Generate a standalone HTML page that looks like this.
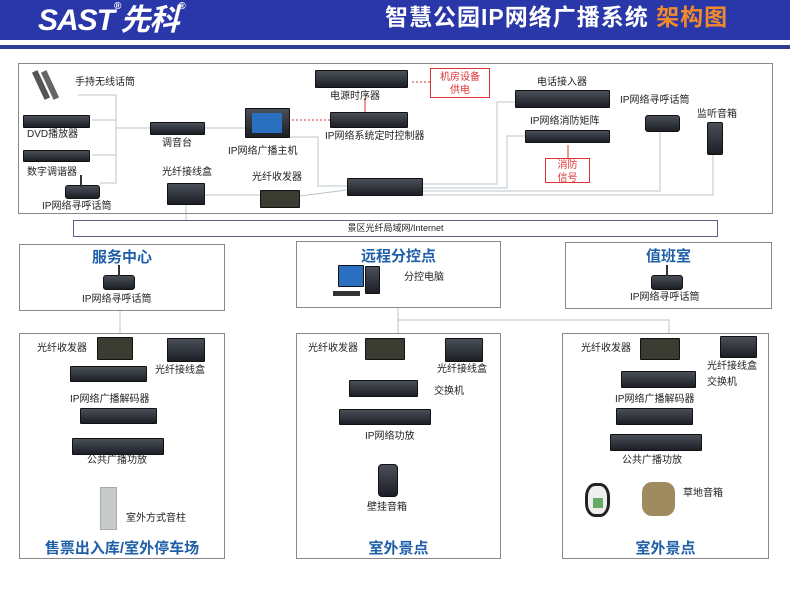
<!DOCTYPE html>
<html><head><meta charset="utf-8"><style>
*{margin:0;padding:0;box-sizing:border-box}
body{width:790px;height:594px;background:#fff;position:relative;overflow:hidden;font-family:"Liberation Sans","Noto Sans CJK SC",sans-serif;color:#222}
.a{position:absolute}
.t{position:absolute;font-size:10px;white-space:nowrap;line-height:1}
.dev{position:absolute;background:linear-gradient(#4a4f58,#1c1f25);border:1px solid #111;border-radius:1px}
.box{position:absolute;border:1.5px solid #888;background:#fff}
.ttl{position:absolute;left:0;right:0;text-align:center;color:#1f5fa8;font-weight:bold;font-size:15px;line-height:1}
.red{position:absolute;border:1.5px solid #d33;color:#d33;font-size:10px;text-align:center;line-height:13px;background:#fff}
svg{position:absolute;left:0;top:0}
</style></head><body>
<div class="a" style="left:0;top:0;width:790px;height:40px;background:#2a37a8"></div>
<div class="a" style="left:0;top:45px;width:790px;height:4px;background:#2d3d94"></div>
<div class="t" style="left:38px;top:2px;color:#fff;font-size:30px;font-weight:bold;font-style:italic;letter-spacing:-1px">SAST<sup style="font-size:10px;font-style:normal;vertical-align:top">®</sup><span style="font-family:'Noto Sans CJK SC',sans-serif">先科</span><sup style="font-size:10px;font-style:normal;vertical-align:top">®</sup></div>
<div class="t" style="left:385px;top:6px;color:#fff;font-size:23px;font-weight:bold;letter-spacing:1px">智慧公园IP网络广播系统 <span style="color:#f08a2a">架构图</span></div>

<svg width="790" height="594">
<g stroke="#b9c6cc" stroke-width="1" fill="none">
<polyline points="78,95 116,95 116,183 100,183"/>
<line x1="92" y1="120" x2="116" y2="120"/><line x1="92" y1="155" x2="116" y2="155"/>
<line x1="116" y1="128" x2="150" y2="128"/>
<line x1="205" y1="128" x2="245" y2="128"/>
<polyline points="290,137 318,137 318,186 347,186"/>
<line x1="205" y1="195" x2="260" y2="195"/>
<line x1="300" y1="196" x2="347" y2="190"/>
<line x1="186" y1="205" x2="186" y2="220"/>
<polyline points="423,184 497,184 497,102 515,102"/>
<polyline points="423,188 507,188 507,136 525,136"/>
<polyline points="423,191 660,191 660,132"/>
<polyline points="423,195 713,195 713,155"/>
<line x1="120" y1="311" x2="120" y2="333"/>
<polyline points="398,308 398,333"/><polyline points="398,320 669,320 669,333"/>
<line x1="133" y1="352" x2="167" y2="352"/><line x1="110" y1="360" x2="110" y2="366"/>
<line x1="110" y1="382" x2="110" y2="438"/><line x1="110" y1="455" x2="110" y2="487"/>
<line x1="405" y1="350" x2="445" y2="350"/><line x1="385" y1="360" x2="385" y2="380"/>
<line x1="385" y1="397" x2="385" y2="409"/><line x1="385" y1="445" x2="385" y2="462"/>
<line x1="680" y1="350" x2="720" y2="347"/><line x1="655" y1="360" x2="655" y2="370"/>
<line x1="655" y1="387" x2="655" y2="408"/><line x1="655" y1="470" x2="655" y2="482"/>
</g>
<g stroke="#d33" stroke-width="1"><line x1="365" y1="98" x2="365" y2="112"/><line x1="568" y1="145" x2="568" y2="158"/></g>
<g stroke="#d33" stroke-width="1" stroke-dasharray="2,2"><line x1="430" y1="82" x2="410" y2="82"/><line x1="330" y1="120" x2="292" y2="120"/></g>
<g stroke="#999" stroke-dasharray="2,2"><line x1="612" y1="497" x2="640" y2="497"/></g>
</svg>

<div class="a" style="left:18px;top:63px;width:755px;height:151px;border:1.5px solid #888"></div>
<div class="a" style="left:73px;top:220px;width:645px;height:17px;border:1.5px solid #6a5a8a;background:#fff;font-size:9px;text-align:center;line-height:14px">景区光纤局域网/Internet</div>

<div class="a" style="left:38px;top:70px;width:6px;height:30px;background:#555;transform:rotate(-25deg)"></div>
<div class="a" style="left:47px;top:70px;width:6px;height:30px;background:#666;transform:rotate(-25deg)"></div>
<div class="t" style="left:75px;top:78px">手持无线话筒</div>
<div class="dev" style="left:23px;top:115px;width:67px;height:13px"></div><div class="t" style="left:27px;top:130px">DVD播放器</div>
<div class="dev" style="left:23px;top:150px;width:67px;height:12px"></div><div class="t" style="left:27px;top:168px">数字调谐器</div>
<div class="dev" style="left:65px;top:185px;width:35px;height:14px;border-radius:3px"></div><div class="a" style="left:80px;top:175px;width:2px;height:12px;background:#333"></div>
<div class="t" style="left:42px;top:202px">IP网络寻呼话筒</div>
<div class="dev" style="left:150px;top:122px;width:55px;height:13px"></div><div class="t" style="left:162px;top:139px">调音台</div>
<div class="dev" style="left:245px;top:108px;width:45px;height:30px"><div class="a" style="left:6px;top:4px;width:30px;height:20px;background:#2a6fc0"></div></div>
<div class="t" style="left:228px;top:147px">IP网络广播主机</div>
<div class="dev" style="left:315px;top:70px;width:93px;height:18px"></div><div class="t" style="left:330px;top:92px">电源时序器</div>
<div class="red" style="left:430px;top:68px;width:60px;height:30px;padding-top:2px">机房设备<br>供电</div>
<div class="dev" style="left:330px;top:112px;width:78px;height:16px"></div><div class="t" style="left:325px;top:132px">IP网络系统定时控制器</div>
<div class="t" style="left:537px;top:78px">电话接入器</div><div class="dev" style="left:515px;top:90px;width:95px;height:18px"></div>
<div class="t" style="left:530px;top:117px">IP网络消防矩阵</div><div class="dev" style="left:525px;top:130px;width:85px;height:13px"></div>
<div class="red" style="left:545px;top:158px;width:45px;height:25px;padding-top:0">消防<br>信号</div>
<div class="t" style="left:620px;top:96px">IP网络寻呼话筒</div>
<div class="dev" style="left:645px;top:115px;width:35px;height:17px;border-radius:3px"></div>
<div class="t" style="left:697px;top:110px">监听音箱</div><div class="dev" style="left:707px;top:122px;width:16px;height:33px;border-radius:2px"></div>
<div class="dev" style="left:347px;top:178px;width:76px;height:18px"></div>
<div class="t" style="left:162px;top:168px">光纤接线盒</div><div class="dev" style="left:167px;top:183px;width:38px;height:22px"></div>
<div class="t" style="left:252px;top:173px">光纤收发器</div><div class="dev" style="left:260px;top:190px;width:40px;height:18px;background:#3b3d33"></div>

<div class="box" style="left:19px;top:244px;width:206px;height:67px"><div class="ttl" style="top:5px">服务中心</div></div>
<div class="dev" style="left:103px;top:275px;width:32px;height:15px;border-radius:3px"></div><div class="a" style="left:118px;top:265px;width:2px;height:11px;background:#333"></div>
<div class="t" style="left:82px;top:295px">IP网络寻呼话筒</div>
<div class="box" style="left:296px;top:241px;width:205px;height:67px"><div class="ttl" style="top:7px">远程分控点</div></div>
<div class="dev" style="left:338px;top:265px;width:26px;height:22px;background:#2a6fc0"></div><div class="dev" style="left:365px;top:266px;width:15px;height:28px"></div><div class="a" style="left:333px;top:291px;width:27px;height:5px;background:#333"></div>
<div class="t" style="left:404px;top:273px">分控电脑</div>
<div class="box" style="left:565px;top:242px;width:207px;height:67px"><div class="ttl" style="top:6px">值班室</div></div>
<div class="dev" style="left:651px;top:275px;width:32px;height:15px;border-radius:3px"></div><div class="a" style="left:666px;top:265px;width:2px;height:11px;background:#333"></div>
<div class="t" style="left:630px;top:293px">IP网络寻呼话筒</div>

<div class="box" style="left:19px;top:333px;width:206px;height:226px"><div class="ttl" style="top:207px">售票出入库/室外停车场</div></div>
<div class="t" style="left:37px;top:344px">光纤收发器</div><div class="dev" style="left:97px;top:337px;width:36px;height:23px;background:#3b3d33"></div>
<div class="dev" style="left:167px;top:338px;width:38px;height:24px"></div><div class="t" style="left:155px;top:366px">光纤接线盒</div>
<div class="dev" style="left:70px;top:366px;width:77px;height:16px"></div>
<div class="t" style="left:70px;top:395px">IP网络广播解码器</div>
<div class="dev" style="left:80px;top:408px;width:77px;height:16px"></div>
<div class="dev" style="left:72px;top:438px;width:92px;height:17px"></div><div class="t" style="left:87px;top:456px">公共广播功放</div>
<div class="a" style="left:100px;top:487px;width:17px;height:43px;background:#c8ccc8;border:1px solid #aaa"></div>
<div class="t" style="left:126px;top:514px">室外方式音柱</div>

<div class="box" style="left:296px;top:333px;width:205px;height:226px"><div class="ttl" style="top:207px">室外景点</div></div>
<div class="t" style="left:308px;top:344px">光纤收发器</div><div class="dev" style="left:365px;top:338px;width:40px;height:22px;background:#3b3d33"></div>
<div class="dev" style="left:445px;top:338px;width:38px;height:24px"></div><div class="t" style="left:437px;top:365px">光纤接线盒</div>
<div class="dev" style="left:349px;top:380px;width:69px;height:17px"></div><div class="t" style="left:434px;top:387px">交换机</div>
<div class="dev" style="left:339px;top:409px;width:92px;height:16px"></div>
<div class="t" style="left:365px;top:432px">IP网络功放</div>
<div class="dev" style="left:378px;top:464px;width:20px;height:33px;border-radius:4px"></div>
<div class="t" style="left:367px;top:503px">壁挂音箱</div>

<div class="box" style="left:562px;top:333px;width:207px;height:226px"><div class="ttl" style="top:207px">室外景点</div></div>
<div class="t" style="left:581px;top:344px">光纤收发器</div><div class="dev" style="left:640px;top:338px;width:40px;height:22px;background:#3b3d33"></div>
<div class="dev" style="left:720px;top:336px;width:37px;height:22px"></div>
<div class="t" style="left:707px;top:362px">光纤接线盒</div><div class="t" style="left:707px;top:378px">交换机</div>
<div class="dev" style="left:621px;top:371px;width:75px;height:17px"></div>
<div class="t" style="left:615px;top:395px">IP网络广播解码器</div>
<div class="dev" style="left:616px;top:408px;width:77px;height:17px"></div>
<div class="dev" style="left:610px;top:434px;width:92px;height:17px"></div>
<div class="t" style="left:622px;top:456px">公共广播功放</div>
<div class="a" style="left:585px;top:483px;width:25px;height:34px;border-radius:40%;background:#eee;border:3px solid #222"><div class="a" style="left:5px;top:12px;width:10px;height:10px;background:#6a6"></div></div>
<div class="a" style="left:642px;top:482px;width:33px;height:34px;border-radius:30%;background:#a08a60"></div>
<div class="t" style="left:683px;top:489px">草地音箱</div>
</body></html>
